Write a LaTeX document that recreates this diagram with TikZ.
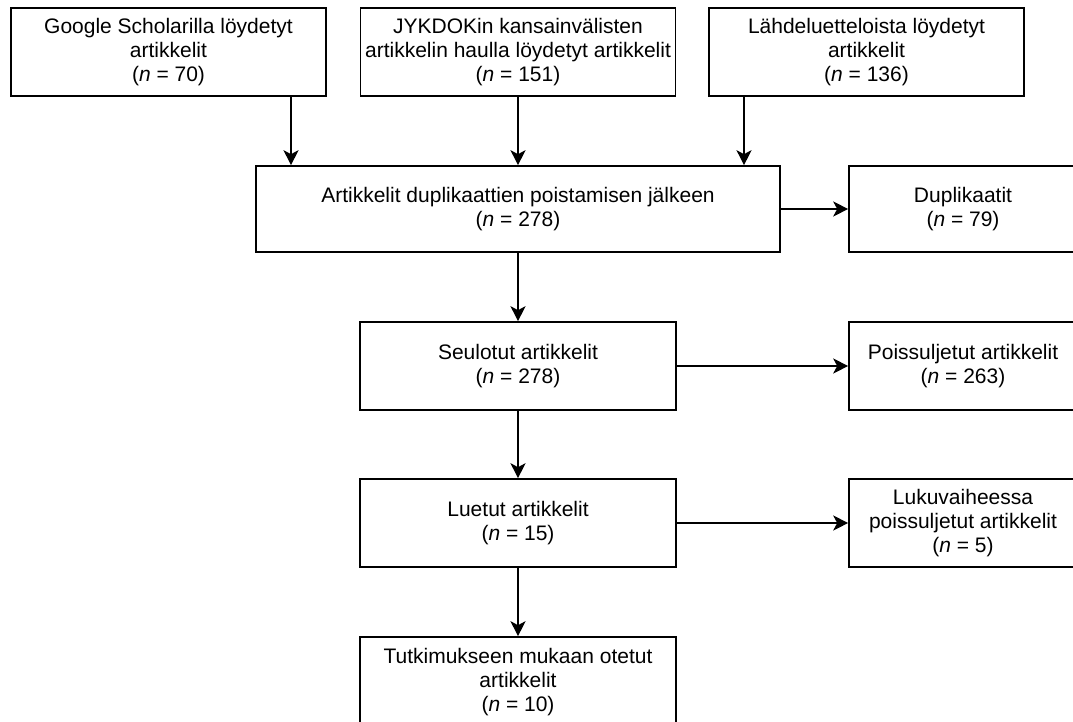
\documentclass[tikz,border=0pt]{standalone}
\usepackage{fontspec}
\setmainfont{Liberation Sans}
\usetikzlibrary{arrows.meta}
\begin{document}
\begin{tikzpicture}[x=1pt,y=-1pt,
  box/.style={draw=black, line width=1.6pt, fill=white, align=center,
    inner sep=0pt, font=\fontsize{21}{24}\selectfont},
  arr/.style={draw=black, line width=1.6pt,
    -{Stealth[length=15pt,width=15pt,inset=4pt]}}]
\clip (0,0) rectangle (1073,722);
\fill[white] (0,0) rectangle (1073,722);
% sources
\node[box, minimum width=315pt, minimum height=88pt] (gs) at (168.5,52)
  {Google Scholarilla löydetyt\\artikkelit\\(\textit{n} = 70)};
\node[box, minimum width=315pt, minimum height=88pt] (jy) at (518,52)
  {JYKDOKin kansainvälisten\\artikkelin haulla löydetyt artikkelit\\(\textit{n} = 151)};
\node[box, minimum width=315pt, minimum height=88pt] (ld) at (866.5,52)
  {Lähdeluetteloista löydetyt\\artikkelit\\(\textit{n} = 136)};
% main flow
\node[box, minimum width=524pt, minimum height=86pt] (dup) at (518,209)
  {Artikkelit duplikaattien poistamisen jälkeen\\(\textit{n} = 278)};
\node[box, minimum width=316pt, minimum height=88pt] (seu) at (518,366)
  {Seulotut artikkelit\\(\textit{n} = 278)};
\node[box, minimum width=316pt, minimum height=88pt] (lue) at (518,523)
  {Luetut artikkelit\\(\textit{n} = 15)};
\node[box, minimum width=316pt, minimum height=90pt] (tut) at (518,682)
  {Tutkimukseen mukaan otetut\\artikkelit\\(\textit{n} = 10)};
% excluded
\node[box, minimum width=228pt, minimum height=86pt] (dpl) at (963,209)
  {Duplikaatit\\(\textit{n} = 79)};
\node[box, minimum width=228pt, minimum height=88pt] (poi) at (963,366)
  {Poissuljetut artikkelit\\(\textit{n} = 263)};
\node[box, minimum width=228pt, minimum height=88pt] (luk) at (963,523)
  {Lukuvaiheessa\\poissuljetut artikkelit\\(\textit{n} = 5)};
% connectors
\coordinate (xa) at (291,0);
\coordinate (xc) at (744,0);
\draw[arr] (gs.south -| xa) -- (dup.north -| xa);
\draw[arr] (jy.south) -- (dup.north -| jy.south);
\draw[arr] (ld.south -| xc) -- (dup.north -| xc);
\draw[arr] (dup.east) -- (dpl.west);
\draw[arr] (dup.south) -- (seu.north);
\draw[arr] (seu.east) -- (poi.west);
\draw[arr] (seu.south) -- (lue.north);
\draw[arr] (lue.east) -- (luk.west);
\draw[arr] (lue.south) -- (tut.north);
\end{tikzpicture}
\end{document}
